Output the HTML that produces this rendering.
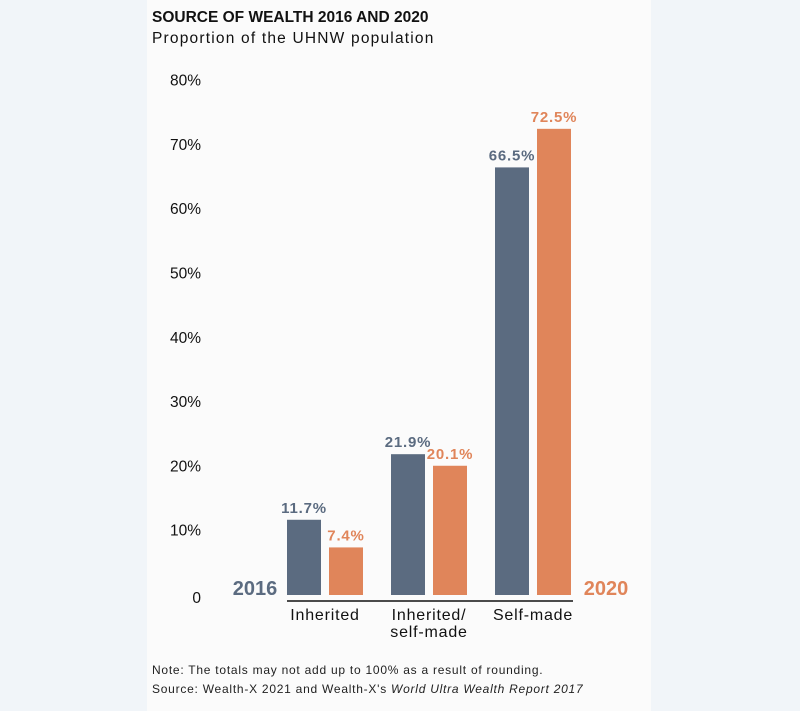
<!DOCTYPE html>
<html><head><meta charset="utf-8"><style>
body{margin:0;width:800px;height:711px;background:#f1f5f9;font-family:"Liberation Sans",sans-serif;}
#panel{position:absolute;left:147px;top:0;width:504px;height:711px;background:#fbfbfb;}
svg{position:absolute;left:0;top:0;}
</style></head><body>
<div id="panel"></div>
<svg id="chart" width="800" height="711">
<text x="152" y="22" font-size="15.5" font-weight="bold" fill="#111">SOURCE OF WEALTH 2016 AND 2020</text>
<text x="152" y="43" font-size="15.5" letter-spacing="1.2" fill="#111">Proportion of the UHNW population</text>
<line x1="287" y1="601" x2="573" y2="601" stroke="#111" stroke-width="1.5"/>
<text x="255" y="595" font-size="20" font-weight="bold" fill="#5b6b80" text-anchor="middle">2016</text>
<text x="606" y="595" font-size="20" font-weight="bold" fill="#e0855a" text-anchor="middle">2020</text>
<text x="152" y="674" font-size="12" letter-spacing="0.75" fill="#222">Note: The totals may not add up to 100% as a result of rounding.</text>
<text x="152" y="693" font-size="12" letter-spacing="0.75" fill="#222">Source: Wealth-X 2021 and Wealth-X's <tspan font-style="italic">World Ultra Wealth Report 2017</tspan></text>
</svg>
<script>
const categories=[["Inherited"],["Inherited/","self-made"],["Self-made"]];
const values2016=[11.7,21.9,66.5];
const values2020=[7.4,20.1,72.5];
const ticks=[0,10,20,30,40,50,60,70,80];
const tickLabels=["0","10%","20%","30%","40%","50%","60%","70%","80%"];
const svg=document.getElementById('chart');
const NS='http://www.w3.org/2000/svg';
const y=v=>595-v*6.43;
const gx=i=>287+i*104;
function mk(t,a){const e=document.createElementNS(NS,t);for(const k in a)e.setAttribute(k,a[k]);svg.appendChild(e);return e;}
ticks.forEach((t,i)=>{const e=mk('text',{x:201,y:(t===0?598:y(t))+5,'font-size':15.5,fill:'#111','text-anchor':'end'});e.textContent=tickLabels[i];

});
categories.forEach((c,i)=>{
 const x=gx(i);
 const b1=mk('rect',{x:x,y:y(values2016[i]),width:34,height:595-y(values2016[i]),fill:'#5b6b80'});
 
 
 const b2=mk('rect',{x:x+42,y:y(values2020[i]),width:34,height:595-y(values2020[i]),fill:'#e0855a'});
 
 
 const l1=mk('text',{x:x+17,y:y(values2016[i])-7,'font-size':15,'letter-spacing':0.8,'font-weight':'bold',fill:'#5b6b80','text-anchor':'middle'});
 l1.textContent=values2016[i].toFixed(1)+'%';
 
 
 const l2=mk('text',{x:x+59,y:y(values2020[i])-7,'font-size':15,'letter-spacing':0.8,'font-weight':'bold',fill:'#e0855a','text-anchor':'middle'});
 l2.textContent=values2020[i].toFixed(1)+'%';
 
 
 c.forEach((s,j)=>{const t=mk('text',{x:x+38,y:620+j*17,'font-size':16,'letter-spacing':0.8,fill:'#111','text-anchor':'middle'});t.textContent=s;
 
 });
});
</script>
</body></html>
